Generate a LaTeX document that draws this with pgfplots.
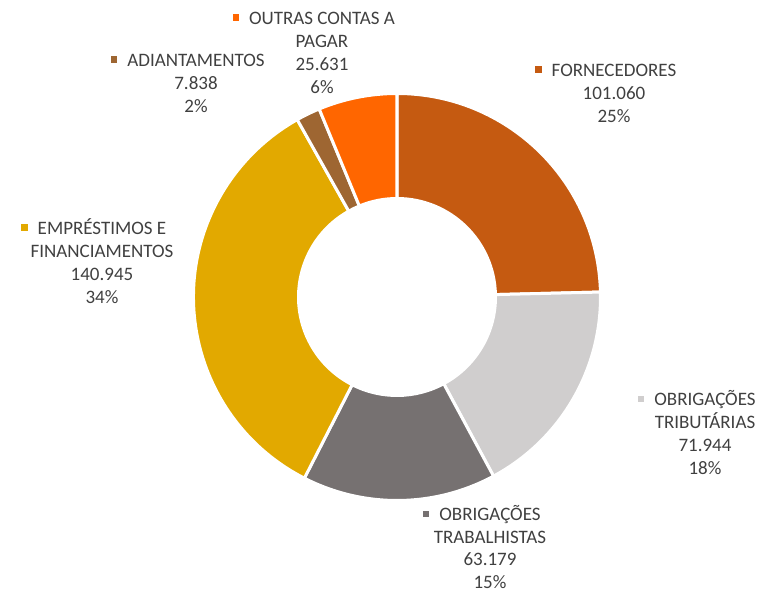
\documentclass[border=0pt]{standalone}
\usepackage{pgfplots}
\pgfplotsset{compat=1.18}
\usepackage{pgfplotstable}
\usepackage{fontspec}
\setmainfont{Carlito}
\definecolor{cForn}{HTML}{C55A11}
\definecolor{cTrib}{HTML}{D0CECE}
\definecolor{cTrab}{HTML}{767171}
\definecolor{cEmp}{HTML}{E2A900}
\definecolor{cAdi}{HTML}{9E6632}
\definecolor{cOut}{HTML}{FF6600}
\definecolor{txt}{HTML}{404040}
% values in thousands
\pgfplotstableread{
idx value color
0 101.060 cForn
1 71.944 cTrib
2 63.179 cTrab
3 140.945 cEmp
4 7.838 cAdi
5 25.631 cOut
}\donut
\newcommand\mk[1]{\llap{\textcolor{#1}{\rule[3.5pt]{6.5pt}{6.5pt}}\hspace{10pt}}}
\begin{document}
\begin{tikzpicture}
\path[use as bounding box] (0,0) rectangle (757pt,594pt);
\begin{axis}[width=757pt,height=594pt,scale only axis,at={(0,0)},anchor=south west,
  xmin=0,xmax=757,ymin=0,ymax=594,hide axis,clip=false]
\def\total{0}
\pgfplotsforeachungrouped \i in {0,...,5}{%
  \pgfplotstablegetelem{\i}{value}\of\donut
  \pgfmathsetmacro\total{\total+\pgfplotsretval}%
}
\def\angA{90}
\pgfplotsforeachungrouped \i in {0,...,5}{%
  \pgfplotstablegetelem{\i}{value}\of\donut
  \pgfmathsetmacro\sweep{360*(\pgfplotsretval/\total)}%
  \pgfplotstablegetelem{\i}{color}\of\donut
  \let\col\pgfplotsretval
  \pgfmathsetmacro\angB{\angA-\sweep}%
  \edef\cmd{\noexpand\fill[\col,draw=white,line width=3pt,line join=round]
    ([shift={(\angA:203.5pt)}]axis cs:397,297)
    arc[start angle=\angA,end angle=\angB,radius=203.5pt]
    -- ([shift={(\angB:98.5pt)}]axis cs:397,297)
    arc[start angle=\angB,end angle=\angA,radius=98.5pt] -- cycle;}%
  \cmd
  \global\let\angA\angB
}
\tikzset{lbl/.style={align=center,text=txt,font=\fontsize{19}{23}\selectfont,inner sep=0pt}}
\node[lbl] at (axis cs:322,541.5) {\mk{cOut}OUTRAS CONTAS A\\PAGAR\\25.631\\6\%};
\node[lbl] at (axis cs:196,511) {\mk{cAdi}ADIANTAMENTOS\\7.838\\2\%};
\node[lbl] at (axis cs:614,501) {\mk{cForn}FORNECEDORES\\101.060\\25\%};
\node[lbl] at (axis cs:102,333) {\mk{cEmp}EMPRÉSTIMOS E\\FINANCIAMENTOS\\140.945\\34\%};
\node[lbl] at (axis cs:705,161) {\mk{cTrib}OBRIGAÇÕES\\TRIBUTÁRIAS\\71.944\\18\%};
\node[lbl,font=\fontsize{19}{22.5}\selectfont] at (axis cs:490,47) {\mk{cTrab}OBRIGAÇÕES\\TRABALHISTAS\\63.179\\15\%};
\end{axis}
\end{tikzpicture}
\end{document}
